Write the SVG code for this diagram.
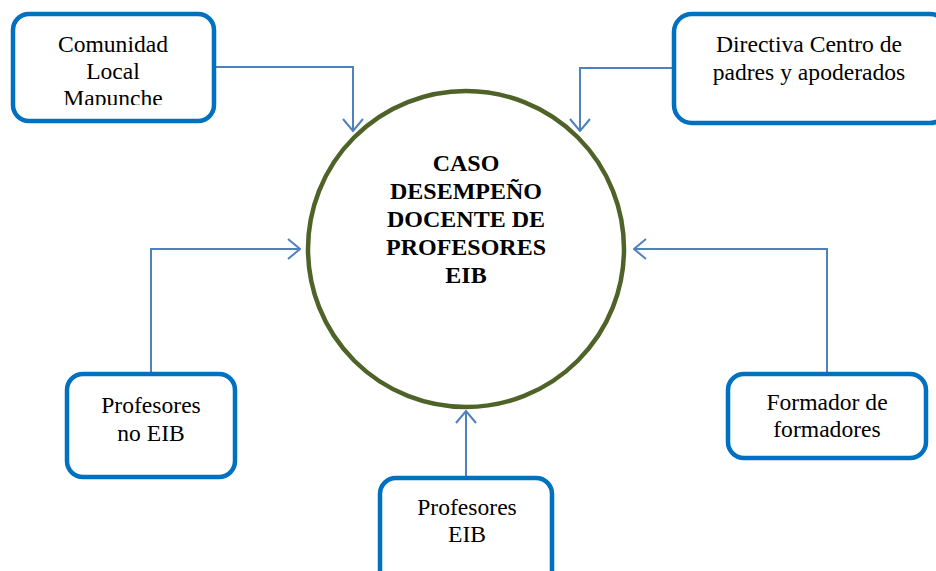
<svg xmlns="http://www.w3.org/2000/svg" width="936" height="571" viewBox="0 0 936 571">
<style>
.box{fill:#fff;stroke:#0070c0;stroke-width:4.5}
.t{font-size:23.6px;fill:#000;text-anchor:middle}
.tb{font-size:24px;font-weight:bold;fill:#000;text-anchor:middle}
.c{fill:none;stroke:#4f81bd;stroke-width:2}
</style>
<defs>
<marker id="ah" viewBox="0 0 14 22" refX="13" refY="11" markerWidth="14" markerHeight="22" markerUnits="userSpaceOnUse" orient="auto">
<path d="M1,1 L13,11 L1,21" fill="none" stroke="#4f81bd" stroke-width="2"/>
</marker>
<clipPath id="clip1"><rect x="11" y="13" width="204" height="92"/></clipPath>
</defs>
<rect width="936" height="571" fill="#fff"/>
<g id="connectors">
<polyline class="c" points="215,67 353,67 353,131" marker-end="url(#ah)"/>
<polyline class="c" points="672,68 580,68 580,131" marker-end="url(#ah)"/>
<polyline class="c" points="151,373 151,249 300,249" marker-end="url(#ah)"/>
<polyline class="c" points="827,373 827,249 634,249" marker-end="url(#ah)"/>
<polyline class="c" points="466,477 466,411" marker-end="url(#ah)"/>
</g>
<g font-family="'Liberation Serif', 'DejaVu Serif', serif">
<g id="center">
<circle cx="466" cy="249" r="158" fill="#fff" stroke="#4f6228" stroke-width="4.5"/>
<text class="tb" x="466" y="171">CASO</text>
<text class="tb" x="466" y="199">DESEMPEÑO</text>
<text class="tb" x="466" y="227">DOCENTE DE</text>
<text class="tb" x="466" y="255">PROFESORES</text>
<text class="tb" x="466" y="283">EIB</text>
</g>
<g id="comunidad">
<rect class="box" x="13" y="14" width="201" height="107" rx="16"/>
<g clip-path="url(#clip1)">
<text class="t" x="113" y="52">Comunidad</text>
<text class="t" x="113" y="79">Local</text>
<text class="t" x="113" y="106">Mapunche</text>
</g>
</g>
<g id="directiva">
<rect class="box" x="674" y="14" width="274" height="109" rx="18"/>
<text class="t" x="809" y="52">Directiva Centro de</text>
<text class="t" x="809" y="80">padres y apoderados</text>
</g>
<g id="noeib">
<rect class="box" x="67" y="374" width="168" height="103" rx="16"/>
<text class="t" x="151" y="413">Profesores</text>
<text class="t" x="151" y="441">no EIB</text>
</g>
<g id="eib">
<rect class="box" x="380" y="478" width="172" height="110" rx="16"/>
<text class="t" x="467" y="515">Profesores</text>
<text class="t" x="467" y="542">EIB</text>
</g>
<g id="formador">
<rect class="box" x="728" y="374" width="198" height="84" rx="16"/>
<text class="t" x="827" y="410">Formador de</text>
<text class="t" x="827" y="437">formadores</text>
</g>
</g>
</svg>
